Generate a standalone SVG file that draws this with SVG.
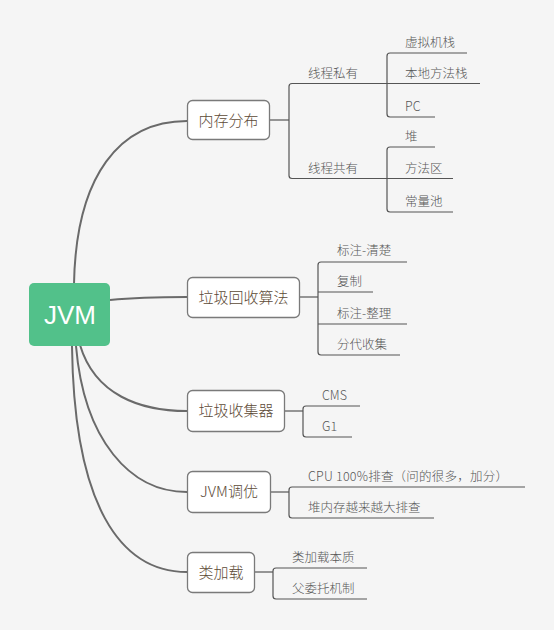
<svg xmlns="http://www.w3.org/2000/svg" width="554" height="630" viewBox="0 0 554 630">
<style>
.bg{fill:#f5f5f5}
.root{fill:#52c18a}
.rt{fill:#ffffff;font-family:"Liberation Sans","Noto Sans CJK SC",sans-serif;font-size:26px;text-anchor:middle}
.box{fill:#ffffff;stroke:#7a7a7a;stroke-width:1.3}
.bt{fill:#5c4a36;font-family:"Noto Sans CJK SC",sans-serif;font-size:15px;font-weight:300;text-anchor:middle}
.st{fill:#555555;font-family:"Noto Sans CJK SC",sans-serif;font-size:12.5px;font-weight:300}
.main{fill:none;stroke:#6a6a6a;stroke-width:2}
.br{fill:none;stroke:#555555;stroke-width:1.2}
</style>
<rect class="bg" x="0" y="0" width="554" height="630"/>
<g id="connectors">
<path class="main" d="M74,284 C76,175 120,121 187,121"/>
<path class="main" d="M110,300 C140,297 160,297 187,297"/>
<path class="main" d="M80,345 C95,395 140,411 187,411"/>
<path class="main" d="M76,346 C84,440 130,492 187,492"/>
<path class="main" d="M72,346 C74,505 120,572 187,572"/>
<path class="br" d="M270,120 H289"/>
<path class="br" d="M387,83.5 H292 Q289,83.5 289,86.5 V175.5 Q289,178.5 292,178.5 H387"/>
<path class="br" d="M435,117 H390 Q387,117 387,114 V56 Q387,53 390,53 H467"/>
<path class="br" d="M387,83.5 H480"/>
<path class="br" d="M435,147 H390 Q387,147 387,150 V209 Q387,212 390,212 H453"/>
<path class="br" d="M387,178.5 H453"/>
<path class="br" d="M300,297 H318"/>
<path class="br" d="M407,262 H321 Q318,262 318,265 V352 Q318,355 321,355 H400"/>
<path class="br" d="M318,292 H373"/>
<path class="br" d="M318,324 H407"/>
<path class="br" d="M285,411 H303"/>
<path class="br" d="M360,406 H306 Q303,406 303,409 V434 Q303,437 306,437 H352"/>
<path class="br" d="M271,492 H289"/>
<path class="br" d="M525,487 H292 Q289,487 289,490 V515 Q289,518 292,518 H434"/>
<path class="br" d="M255,572 H273"/>
<path class="br" d="M367,568 H276 Q273,568 273,571 V596 Q273,599 276,599 H367"/>
</g>
<g id="jvm">
<rect class="root" x="29" y="283" width="81" height="63" rx="5"/>
<text class="rt" x="70" y="324">JVM</text>
</g>
<g id="memory">
<rect class="box" x="187.5" y="100.5" width="82" height="39" rx="5"/>
<text class="bt" x="228.5" y="125.5">内存分布</text>
</g>
<g id="private"><text class="st" x="308" y="78">线程私有</text></g>
<g id="vmstack"><text class="st" x="405" y="47">虚拟机栈</text></g>
<g id="nativestack"><text class="st" x="405" y="78">本地方法栈</text></g>
<g id="pc"><text class="st" x="405" y="111">PC</text></g>
<g id="shared"><text class="st" x="308" y="173">线程共有</text></g>
<g id="heap"><text class="st" x="405" y="141">堆</text></g>
<g id="method"><text class="st" x="405" y="173">方法区</text></g>
<g id="constpool"><text class="st" x="405" y="206">常量池</text></g>
<g id="gcalgo">
<rect class="box" x="187.5" y="277.5" width="112" height="40" rx="5"/>
<text class="bt" x="243.5" y="302.5">垃圾回收算法</text>
</g>
<g id="marksweep"><text class="st" x="337" y="255">标注-清楚</text></g>
<g id="copy"><text class="st" x="337" y="286">复制</text></g>
<g id="markcompact"><text class="st" x="337" y="318">标注-整理</text></g>
<g id="generational"><text class="st" x="337" y="349">分代收集</text></g>
<g id="collector">
<rect class="box" x="187.5" y="390.5" width="97" height="41" rx="5"/>
<text class="bt" x="236" y="416">垃圾收集器</text>
</g>
<g id="cms"><text class="st" x="322" y="400">CMS</text></g>
<g id="g1"><text class="st" x="322" y="431">G1</text></g>
<g id="tuning">
<rect class="box" x="187.5" y="471.5" width="83" height="41" rx="5"/>
<text class="bt" x="229" y="497">JVM调优</text>
</g>
<g id="cpu"><text class="st" x="308" y="481" textLength="200">CPU 100%排查（问的很多，加分）</text></g>
<g id="heapgrow"><text class="st" x="308" y="512">堆内存越来越大排查</text></g>
<g id="classload">
<rect class="box" x="187.5" y="552.5" width="67" height="40" rx="5"/>
<text class="bt" x="221" y="578">类加载</text>
</g>
<g id="essence"><text class="st" x="292" y="562">类加载本质</text></g>
<g id="parent"><text class="st" x="292" y="593">父委托机制</text></g>
</svg>
